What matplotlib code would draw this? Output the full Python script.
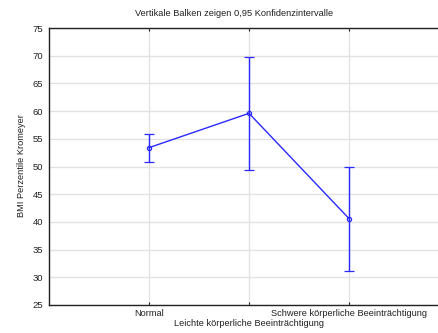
import matplotlib
matplotlib.use("Agg")
import matplotlib.pyplot as plt
import numpy as np

plt.rcParams['font.family'] = ['Liberation Sans', 'DejaVu Sans']

categories = ["Normal", "Leichte körperliche Beeinträchtigung", "Schwere körperliche Beeinträchtigung"]
means = [53.4, 59.6, 40.6]
ci_low = [50.9, 49.4, 31.1]
ci_high = [55.9, 69.8, 50.0]
y_ticks = [25, 30, 35, 40, 45, 50, 55, 60, 65, 70, 75]

W, H = 438, 333
fig = plt.figure(figsize=(W / 100, H / 100), dpi=100)
left, right, top, bottom = 49, 438, 28, 305
ax = fig.add_axes([left / W, 1 - bottom / H, (right - left) / W, (bottom - top) / H])

x = np.arange(1, len(categories) + 1)
means_a = np.array(means)
yerr = np.vstack([means_a - np.array(ci_low), np.array(ci_high) - means_a])

color = '#2a2aff'
ax.errorbar(x, means, yerr=yerr, color=color, lw=1.0, elinewidth=1.0,
            capsize=3.6, capthick=1.0, marker='o', ms=3.0, mfc='none',
            mec=color, mew=0.9, zorder=3)

ax.set_xlim(0, (right - left) / 100)
ax.set_ylim(25, 75)
ax.set_yticks(y_ticks)
ax.set_xticks(x)
ax.set_xticklabels([])
ax.grid(True, color='#e2e2e2', lw=1.0, zorder=0)
ax.set_axisbelow(True)

for s in ['top', 'left', 'bottom']:
    ax.spines[s].set_color('#222222')
    ax.spines[s].set_linewidth(1.0)
ax.spines['right'].set_visible(False)

ax.tick_params(axis='y', labelsize=6.8, length=0, pad=4, colors='#222222')
ax.tick_params(axis='x', direction='in', length=2, top=True, colors='#222222')

# staggered category labels
for i, (xi, lab) in enumerate(zip(x, categories)):
    yoff = 313 if i % 2 == 0 else 324
    fig.text((left + (xi) * 100) / W, 1 - yoff / H, lab, ha='center', va='center',
             fontsize=6.7, color='#222222')

fig.text(22 / W, 1 - 166 / H, "BMI Perzentile Kromeyer", rotation=90,
         ha='center', va='center', fontsize=6.7, color='#222222')
fig.text(234 / W, 1 - 13 / H, "Vertikale Balken zeigen 0,95 Konfidenzintervalle",
         ha='center', va='center', fontsize=6.7, color='#222222')

fig.savefig("out.png", dpi=100, facecolor='white')
